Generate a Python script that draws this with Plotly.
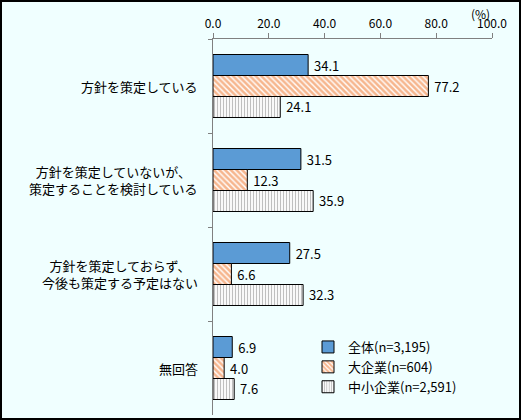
import plotly.graph_objects as go

# categorias (eje Y) y series
categorias = ["方針を策定している",
              "方針を策定していないが、<br>策定することを検討している",
              "方針を策定しておらず、<br>今後も策定する予定はない",
              "無回答"]
series = ["全体(n=3,195)", "大企業(n=604)", "中小企業(n=2,591)"]
zentai = [34.1, 31.5, 27.5, 6.9]
daikigyo = [77.2, 12.3, 6.6, 4.0]
chusho = [24.1, 35.9, 32.3, 7.6]
xticks = [0, 20, 40, 60, 80, 100]

fuente = "Noto Sans CJK JP"
fondo = "#F0FFFF"

W, H = 521, 420
ml, mr, mt, mb = 213, 29, 39, 5
pw = W - ml - mr
ph = H - mt - mb

estilos = [
    dict(color="#5B9BD5", line=dict(color="black", width=1)),
    dict(color="white", line=dict(color="black", width=1),
         pattern=dict(shape="\\", fgcolor="#EE6E1E", bgcolor="white", size=4, solidity=0.65)),
    dict(color="white", line=dict(color="black", width=1),
         pattern=dict(shape="|", fgcolor="#808080", bgcolor="white", size=3, solidity=0.4)),
]

fig = go.Figure()
for nombre, valores, marker in zip(series, [zentai, daikigyo, chusho], estilos):
    fig.add_trace(go.Bar(y=categorias, x=valores, name=nombre, orientation="h",
                         marker=marker, texttemplate="\u00a0%{x:.1f}", textposition="outside",
                         textfont=dict(size=13, color="black", family=fuente),
                         cliponaxis=False))

# etiquetas de categoria centradas
for c in categorias:
    fig.add_annotation(x=-13 / pw, xref="paper", y=c, yref="y", text=c, showarrow=False,
                       xanchor="right", align="center",
                       font=dict(size=13, color="black", family=fuente))

fig.add_annotation(x=(492 - ml) / pw, xref="paper", y=1 + (mt - 3) / ph, yref="paper",
                   yanchor="top", text="(%)", showarrow=False,
                   font=dict(size=12, color="black", family=fuente))

# marco de la imagen
fig.add_shape(type="rect", xref="paper", yref="paper",
              x0=(1 - ml) / pw, x1=(W - 1 - ml) / pw,
              y0=-(mb - 1) / ph, y1=1 + (mt - 1) / ph,
              line=dict(color="black", width=2), fillcolor="rgba(0,0,0,0)")

fig.update_layout(
    width=W, height=H,
    margin=dict(l=ml, r=mr, t=mt, b=mb),
    paper_bgcolor=fondo, plot_bgcolor=fondo,
    barmode="group", bargap=0.33, bargroupgap=0,
    font=dict(family=fuente, size=12, color="black"),
    showlegend=True,
    legend=dict(x=(308 - ml) / pw, y=(415 - 332) / ph, xanchor="left", yanchor="top",
                bgcolor="rgba(0,0,0,0)", font=dict(size=13, family=fuente),
                tracegroupgap=0, itemwidth=30),
)
fig.update_xaxes(side="top", range=[0, 100], tickvals=xticks, tickformat=".1f",
                 showgrid=False, zeroline=False, showline=True, linecolor="#808080",
                 ticks="outside", ticklen=5, tickcolor="#808080",
                 tickfont=dict(size=12, family=fuente))
fig.update_yaxes(autorange="reversed", showticklabels=False, showgrid=False,
                 showline=True, linecolor="#808080", ticks="outside", ticklen=4,
                 tickcolor="#808080", tickson="boundaries")

fig.write_html("out.html", config={"displayModeBar": False},
               post_script="document.body.style.margin='0';document.body.style.overflow='hidden';")
